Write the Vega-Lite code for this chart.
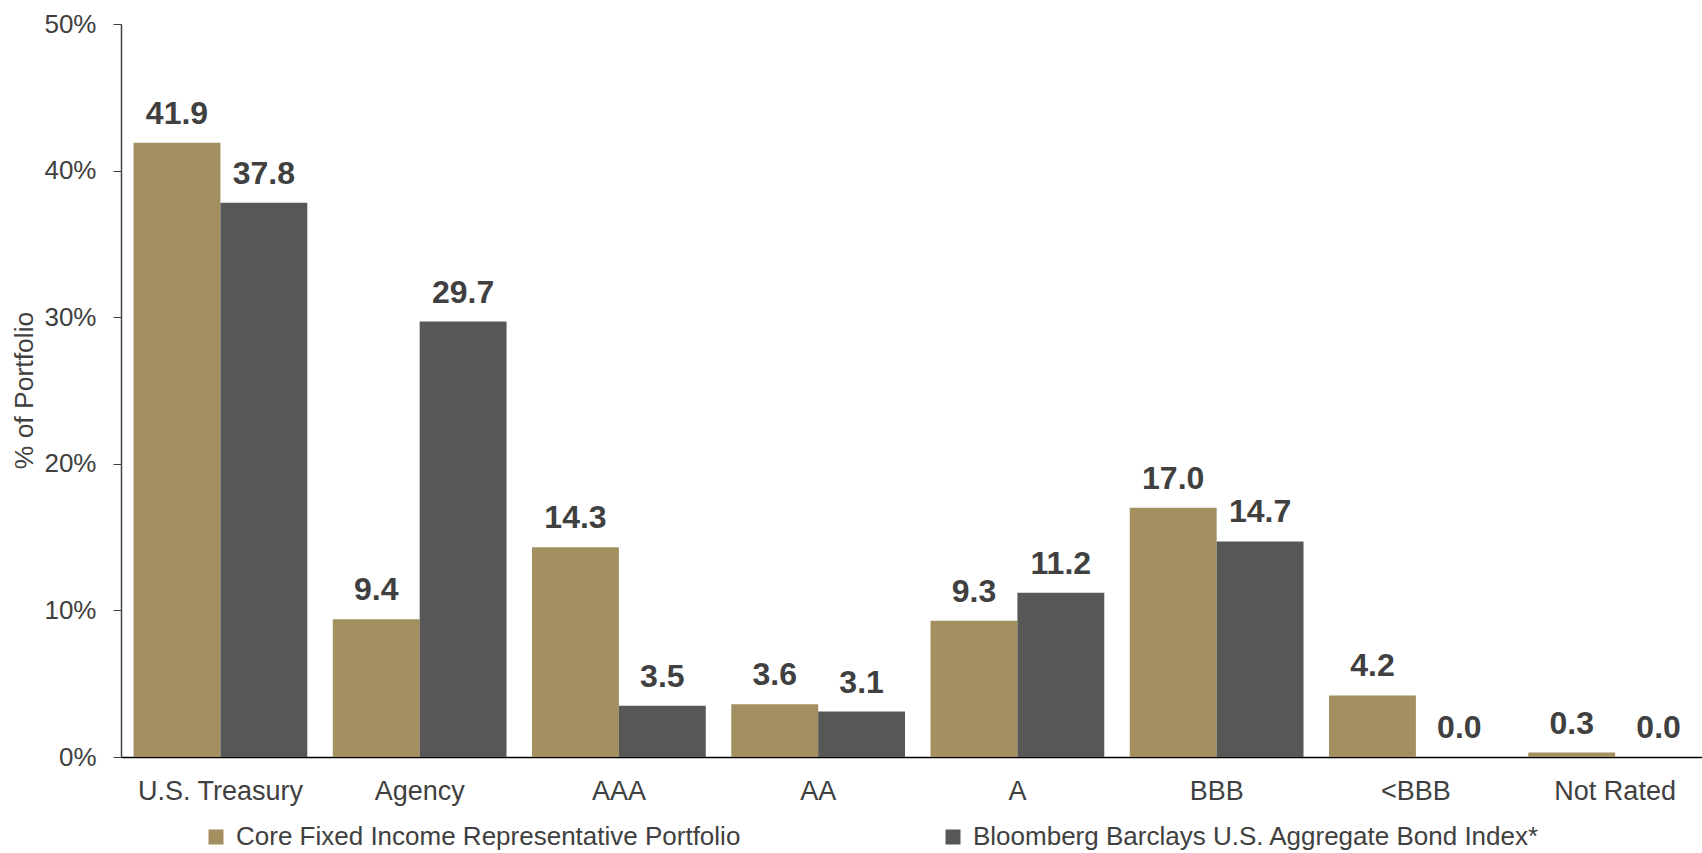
{
  "$schema": "https://vega.github.io/schema/vega-lite/v6.json",
  "width": 1581,
  "height": 733,
  "autosize": {"type": "none"},
  "padding": {"left": 121, "top": 24, "right": 0, "bottom": 96},
  "background": "white",
  "config": {"view": {"stroke": null}, "font": "Liberation Sans"},
  "data": {
    "values": [
      {"category": "U.S. Treasury", "series": "Core Fixed Income Representative Portfolio", "value": 41.9},
      {"category": "U.S. Treasury", "series": "Bloomberg Barclays U.S. Aggregate Bond Index*", "value": 37.8},
      {"category": "Agency", "series": "Core Fixed Income Representative Portfolio", "value": 9.4},
      {"category": "Agency", "series": "Bloomberg Barclays U.S. Aggregate Bond Index*", "value": 29.7},
      {"category": "AAA", "series": "Core Fixed Income Representative Portfolio", "value": 14.3},
      {"category": "AAA", "series": "Bloomberg Barclays U.S. Aggregate Bond Index*", "value": 3.5},
      {"category": "AA", "series": "Core Fixed Income Representative Portfolio", "value": 3.6},
      {"category": "AA", "series": "Bloomberg Barclays U.S. Aggregate Bond Index*", "value": 3.1},
      {"category": "A", "series": "Core Fixed Income Representative Portfolio", "value": 9.3},
      {"category": "A", "series": "Bloomberg Barclays U.S. Aggregate Bond Index*", "value": 11.2},
      {"category": "BBB", "series": "Core Fixed Income Representative Portfolio", "value": 17.0},
      {"category": "BBB", "series": "Bloomberg Barclays U.S. Aggregate Bond Index*", "value": 14.7},
      {"category": "<BBB", "series": "Core Fixed Income Representative Portfolio", "value": 4.2},
      {"category": "<BBB", "series": "Bloomberg Barclays U.S. Aggregate Bond Index*", "value": 0.0},
      {"category": "Not Rated", "series": "Core Fixed Income Representative Portfolio", "value": 0.3},
      {"category": "Not Rated", "series": "Bloomberg Barclays U.S. Aggregate Bond Index*", "value": 0.0}
    ]
  },
  "encoding": {
    "x": {
      "field": "category",
      "type": "nominal",
      "sort": ["U.S. Treasury", "Agency", "AAA", "AA", "A", "BBB", "<BBB", "Not Rated"],
      "scale": {"paddingInner": 0.128, "paddingOuter": 0.0315, "align": 1},
      "axis": {
        "title": null,
        "labelAngle": 0,
        "labelFontSize": 27,
        "labelColor": "#404040",
        "labelPadding": 21,
        "ticks": false,
        "domainColor": "#000000",
        "domainWidth": 1.5,
        "grid": false
      }
    },
    "xOffset": {
      "field": "series",
      "type": "nominal",
      "sort": ["Core Fixed Income Representative Portfolio", "Bloomberg Barclays U.S. Aggregate Bond Index*"],
      "scale": {"paddingInner": 0, "paddingOuter": 0}
    },
    "y": {
      "field": "value",
      "type": "quantitative",
      "scale": {"domain": [0, 50], "nice": false},
      "axis": {
        "title": "% of Portfolio",
        "titleFontSize": 26.5,
        "titleFontWeight": "normal",
        "titleColor": "#404040",
        "titleAngle": -90,
        "titleX": -97,
        "titleY": 366,
        "titleAlign": "center",
        "titleBaseline": "middle",
        "values": [0, 10, 20, 30, 40, 50],
        "labelExpr": "datum.value + '%'",
        "labelFontSize": 26,
        "labelColor": "#404040",
        "labelPadding": 17,
        "tickSize": 8,
        "tickColor": "#404040",
        "domainColor": "#404040",
        "domainWidth": 1.5,
        "grid": false
      }
    }
  },
  "layer": [
    {
      "mark": {"type": "bar"},
      "encoding": {
        "color": {
          "field": "series",
          "type": "nominal",
          "scale": {
            "domain": ["Core Fixed Income Representative Portfolio", "Bloomberg Barclays U.S. Aggregate Bond Index*"],
            "range": ["#A38F60", "#575756"]
          },
          "legend": {
            "title": null,
            "orient": "none",
            "legendX": 82,
            "legendY": 800,
            "direction": "horizontal",
            "columns": 2,
            "padding": 0,
            "symbolType": "square",
            "symbolSize": 225,
            "symbolStrokeWidth": 0,
            "labelFontSize": 26,
            "labelColor": "#404040",
            "labelOffset": 7,
            "labelLimit": 800,
            "columnPadding": 199
          }
        }
      }
    },
    {
      "mark": {"type": "text", "baseline": "alphabetic", "dy": -19, "fontSize": 32, "fontWeight": "bold", "color": "#404040"},
      "encoding": {
        "text": {"field": "value", "type": "quantitative", "format": ".1f"}
      }
    }
  ]
}
